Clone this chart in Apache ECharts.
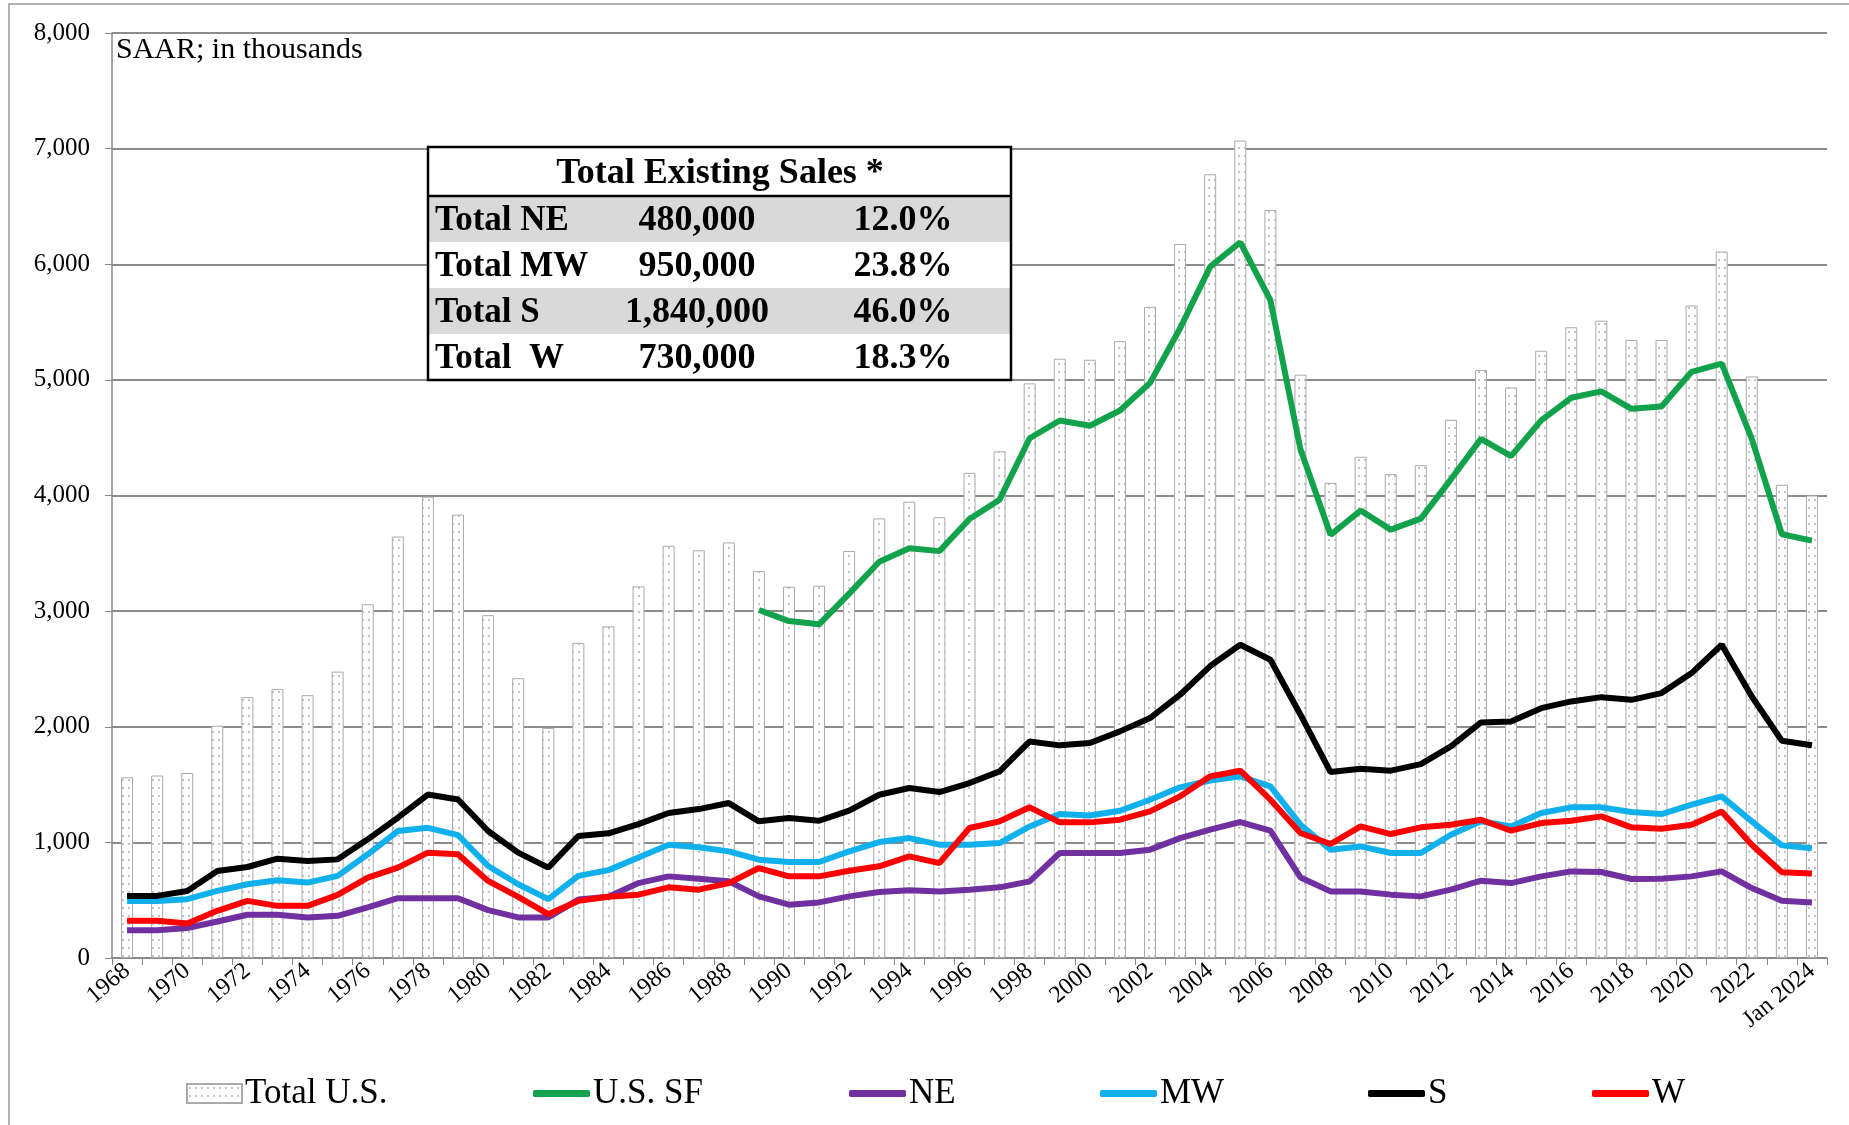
<!DOCTYPE html>
<html>
<head>
<meta charset="utf-8">
<title>Existing Home Sales by Region</title>
<script src="https://cdn.jsdelivr.net/npm/echarts@6/dist/echarts.min.js"></script>
<style>
  html, body { margin: 0; padding: 0; background: #fff; }
  #chart { width: 1849px; height: 1125px; }
</style>
</head>
<body>
<div id="chart"></div>
<script>
// categories: annual 1968-2023 plus the latest month
var years = ['1968','1969','1970','1971','1972','1973','1974','1975','1976','1977',
  '1978','1979','1980','1981','1982','1983','1984','1985','1986','1987',
  '1988','1989','1990','1991','1992','1993','1994','1995','1996','1997',
  '1998','1999','2000','2001','2002','2003','2004','2005','2006','2007',
  '2008','2009','2010','2011','2012','2013','2014','2015','2016','2017',
  '2018','2019','2020','2021','2022','2023','Jan 2024'];

// SAAR, thousands
var totalUS = [1563,1578,1600,2009,2256,2325,2273,2477,3060,3645,
  3990,3835,2965,2420,1990,2725,2868,3214,3565,3526,
  3594,3346,3211,3220,3520,3802,3946,3812,4196,4382,
  4970,5183,5174,5335,5632,6175,6778,7070,6470,5045,
  4110,4335,4185,4262,4655,5085,4935,5252,5455,5512,
  5345,5345,5643,6110,5030,4093,4000];

var usSF = [null,null,null,null,null,null,null,null,null,null,
  null,null,null,null,null,null,null,null,null,null,
  null,3010,2914,2886,3151,3427,3544,3519,3797,3964,
  4495,4649,4603,4735,4974,5446,5980,6190,5690,4400,
  3660,3870,3705,3800,4140,4490,4340,4650,4845,4900,
  4750,4770,5070,5140,4490,3665,3610];

var ne = [241,241,259,316,374,374,351,365,437,517,
  517,517,414,351,351,505,530,648,706,686,
  663,533,461,481,533,571,585,576,591,611,
  663,908,908,908,937,1037,1110,1176,1101,697,
  576,576,548,533,591,669,648,706,749,744,
  683,686,706,749,605,496,480];

var mw = [494,494,509,580,638,672,652,710,897,1098,
  1126,1063,796,638,509,710,760,870,980,957,
  922,850,830,830,922,1003,1037,980,980,994,
  1138,1245,1233,1274,1369,1476,1535,1571,1484,1153,
  937,965,908,908,1066,1182,1138,1254,1303,1303,
  1262,1245,1326,1398,1182,974,950];

var south = [537,537,580,753,787,859,839,853,1026,1213,
  1414,1371,1098,911,782,1055,1078,1158,1254,1288,
  1340,1182,1210,1187,1274,1412,1470,1435,1513,1614,
  1873,1839,1859,1960,2075,2277,2525,2709,2579,2104,
  1608,1637,1620,1677,1830,2037,2046,2161,2219,2256,
  2233,2291,2464,2709,2262,1879,1840];

var west = [322,322,299,408,494,451,451,546,695,782,
  911,897,667,529,379,494,530,548,611,591,
  648,778,706,706,755,793,879,821,1124,1182,
  1303,1173,1173,1196,1268,1398,1571,1620,1369,1081,
  986,1138,1072,1130,1153,1196,1101,1167,1187,1225,
  1130,1118,1153,1268,980,741,730];

var yTicks = [0,1000,2000,3000,4000,5000,6000,7000,8000];

// inset table
var tableTitle = 'Total Existing Sales *';
var tableRegions = ['Total NE', 'Total MW', 'Total S', 'Total  W'];
var tableValues = ['480,000', '950,000', '1,840,000', '730,000'];
var tableShares = ['12.0%', '23.8%', '46.0%', '18.3%'];

var serif = "'Liberation Serif', 'DejaVu Serif', serif";

var chart = echarts.init(document.getElementById('chart'));

// white bar with little grey dots, like the excel fill
function dotPattern() {
  var c = document.createElement('canvas');
  c.width = 6; c.height = 8;
  var ctx = c.getContext('2d');
  ctx.fillStyle = '#ffffff';
  ctx.fillRect(0, 0, 6, 8);
  ctx.fillStyle = '#a8a8a8';
  ctx.beginPath();
  ctx.arc(3, 4, 0.9, 0, Math.PI * 2);
  ctx.fill();
  return c;
}
var barFill = { image: dotPattern(), repeat: 'repeat' };

// table graphic (drawn above the grid lines)
var tbl = { x: 428, y: 147, w: 583, head: 49, row: 46 };
var tz = 100;
var tableEls = [];
tableEls.push({ type: 'rect', z: tz, shape: { x: tbl.x, y: tbl.y, width: tbl.w, height: tbl.head + tbl.row * 4 },
  style: { fill: '#fff', stroke: null } });
for (var i = 0; i < tableRegions.length; i++) {
  var ry = tbl.y + tbl.head + i * tbl.row;
  if (i % 2 === 0) {
    tableEls.push({ type: 'rect', z: tz + 1, shape: { x: tbl.x, y: ry, width: tbl.w, height: tbl.row },
      style: { fill: '#d9d9d9', stroke: null } });
  }
  var cy = ry + tbl.row / 2 + 2;
  tableEls.push({ type: 'text', z: tz + 2, x: 435, y: cy, style: { text: tableRegions[i], font: 'bold 35px ' + serif,
    fill: '#000', textAlign: 'left', textVerticalAlign: 'middle' } });
  tableEls.push({ type: 'text', z: tz + 2, x: 697, y: cy, style: { text: tableValues[i], font: 'bold 36px ' + serif,
    fill: '#000', textAlign: 'center', textVerticalAlign: 'middle' } });
  tableEls.push({ type: 'text', z: tz + 2, x: 903, y: cy, style: { text: tableShares[i], font: 'bold 36px ' + serif,
    fill: '#000', textAlign: 'center', textVerticalAlign: 'middle' } });
}
tableEls.push({ type: 'text', z: tz + 2, x: 720, y: tbl.y + tbl.head / 2 + 2, style: { text: tableTitle,
  font: 'bold 36px ' + serif, fill: '#000', textAlign: 'center', textVerticalAlign: 'middle' } });
tableEls.push({ type: 'line', z: tz + 3, shape: { x1: tbl.x, y1: tbl.y + tbl.head, x2: tbl.x + tbl.w, y2: tbl.y + tbl.head },
  style: { stroke: '#000', lineWidth: 2.5 } });
tableEls.push({ type: 'rect', z: tz + 3, shape: { x: tbl.x, y: tbl.y, width: tbl.w, height: tbl.head + tbl.row * 4 },
  style: { fill: null, stroke: '#000', lineWidth: 2.5 } });

// legends sit at uneven spots, so one legend per item
function legendAt(name, left, w, h, icon) {
  return {
    data: [name], left: left, top: 1076, padding: 0, icon: icon,
    itemWidth: w, itemHeight: h, itemGap: 4,
    textStyle: { fontFamily: serif, fontSize: 35, color: '#000', padding: [0, 0, 0, -2] }
  };
}

var option = {
  animation: false,
  backgroundColor: '#fff',
  grid: { left: 112, top: 33, right: 22, bottom: 167 },
  legend: [
    legendAt('Total U.S.', 186, 55, 19, 'rect'),
    legendAt('U.S. SF', 533, 57, 7, 'roundRect'),
    legendAt('NE', 849, 57, 7, 'roundRect'),
    legendAt('MW', 1100, 57, 7, 'roundRect'),
    legendAt('S', 1368, 57, 7, 'roundRect'),
    legendAt('W', 1592, 57, 7, 'roundRect')
  ],
  xAxis: {
    type: 'category',
    data: years,
    boundaryGap: true,
    axisLine: { lineStyle: { color: '#888', width: 1.5 } },
    axisTick: { show: true, interval: 0, length: 7, lineStyle: { color: '#888' } },
    axisLabel: { interval: 1, rotate: 40, margin: 10, fontFamily: serif, fontSize: 24, color: '#000' }
  },
  yAxis: {
    type: 'value',
    min: yTicks[0],
    max: yTicks[yTicks.length - 1],
    interval: 1000,
    axisLine: { show: true, lineStyle: { color: '#888', width: 1.5 } },
    axisTick: { show: true, length: 7, lineStyle: { color: '#888' } },
    splitLine: { lineStyle: { color: '#8c8c8c', width: 2 } },
    axisLabel: {
      margin: 22, fontFamily: serif, fontSize: 25, color: '#000',
      formatter: function (v) { return v.toLocaleString('en-US'); }
    }
  },
  graphic: [
    { type: 'rect', shape: { x: 9, y: 4, width: 1860, height: 1140 }, style: { fill: null, stroke: '#999', lineWidth: 1.5 }, z: -10 },
    { type: 'text', left: 116, top: 35, style: { text: 'SAAR; in thousands', font: '30px ' + serif, fill: '#000' } },
    { type: 'group', children: tableEls, z: 100 }
  ],
  series: [
    {
      name: 'Total U.S.', type: 'bar', data: totalUS, barWidth: 12, z: 1,
      itemStyle: { color: barFill, borderColor: '#aaa', borderWidth: 1 },
      emphasis: { disabled: true }
    },
    { name: 'U.S. SF', type: 'line', data: usSF, symbol: 'none', z: 3,
      lineStyle: { color: '#12a24b', width: 6 }, itemStyle: { color: '#12a24b' } },
    { name: 'NE', type: 'line', data: ne, symbol: 'none', z: 3,
      lineStyle: { color: '#7030a0', width: 6 }, itemStyle: { color: '#7030a0' } },
    { name: 'MW', type: 'line', data: mw, symbol: 'none', z: 3,
      lineStyle: { color: '#10b0ec', width: 6 }, itemStyle: { color: '#10b0ec' } },
    { name: 'S', type: 'line', data: south, symbol: 'none', z: 3,
      lineStyle: { color: '#000000', width: 6 }, itemStyle: { color: '#000000' } },
    { name: 'W', type: 'line', data: west, symbol: 'none', z: 3,
      lineStyle: { color: '#ff0000', width: 6 }, itemStyle: { color: '#ff0000' } }
  ]
};

chart.setOption(option);
</script>
</body>
</html>
